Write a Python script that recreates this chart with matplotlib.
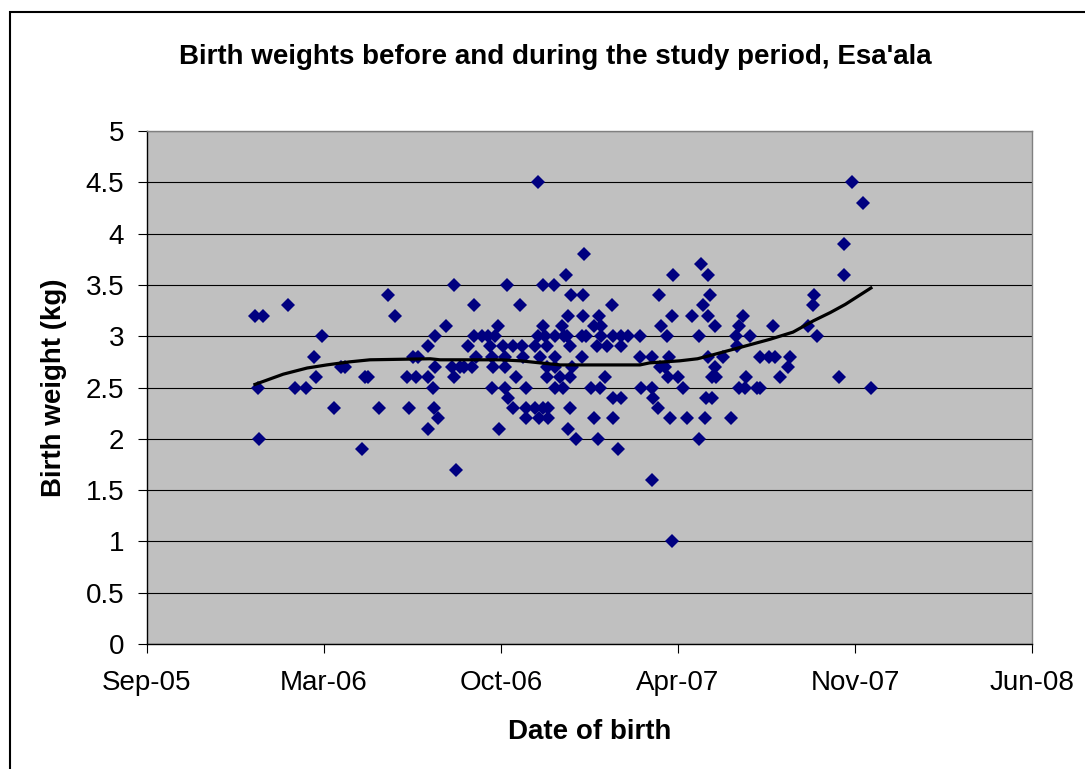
import numpy as np
import pandas as pd
import matplotlib
matplotlib.use("Agg")
import matplotlib.pyplot as plt
import matplotlib.dates as mdates
from matplotlib.patches import Rectangle
from matplotlib.ticker import FuncFormatter, MultipleLocator

plt.rcParams['font.family'] = ['Liberation Sans', 'DejaVu Sans']

# date of birth as Excel serial day numbers, birth weight in kg
dob_serial = [
    38722, 38725, 38727, 38731, 38759, 38767, 38780, 38789, 38791, 38798,
    38811, 38819, 38824, 38843, 38846, 38850, 38862, 38872, 38880,
    38894, 38896, 38901, 38904, 38906, 38918, 38918, 38918, 38923, 38924,
    38925, 38925, 38929, 38938, 38945, 38947, 38947, 38949, 38954, 38958,
    38963, 38967, 38970, 38970, 38972,
    38979, 38985, 38988, 38990, 38990, 38991, 38993, 38997, 38998, 39002,
    39005, 39005, 39005, 39007, 39008, 39014, 39014, 39017, 39022, 39024,
    39025, 39028, 39028, 39028, 39038, 39038, 39042, 39042, 39043, 39044,
    39048, 39048, 39048, 39050, 39052, 39052, 39052, 39053, 39053,
    39060, 39061, 39061, 39061, 39061, 39067, 39069, 39070, 39071, 39074,
    39075, 39076, 39076, 39078, 39078, 39078, 39079, 39080, 39085, 39092,
    39092, 39093, 39093, 39094, 39096, 39102, 39105, 39105, 39109, 39110,
    39111, 39112, 39113, 39113, 39118, 39120, 39125, 39126,
    39127, 39127, 39132, 39136, 39136, 39136, 39144, 39157, 39157, 39158,
    39171, 39171, 39171, 39172, 39177, 39179, 39181, 39180, 39185, 39188,
    39189, 39190, 39191, 39193, 39194, 39193,
    39200, 39206, 39210, 39216, 39224, 39224, 39226, 39228, 39231, 39232,
    39234, 39234, 39234, 39236, 39238, 39238, 39242, 39242, 39243, 39251,
    39260, 39266, 39267, 39269, 39269, 39273, 39276, 39277, 39281, 39289,
    39293, 39293, 39303, 39307, 39310, 39315, 39324, 39327, 39347, 39353,
    39354, 39357, 39382, 39388, 39388, 39397, 39409, 39418,
]
weight_kg = [
    3.2, 2.5, 2.0, 3.2, 3.3, 2.5, 2.5, 2.8, 2.6, 3.0,
    2.3, 2.7, 2.7, 1.9, 2.6, 2.6, 2.3, 3.4, 3.2,
    2.6, 2.3, 2.8, 2.6, 2.8, 2.9, 2.6, 2.1, 2.5, 2.3,
    3.0, 2.7, 2.2, 3.1, 2.7, 3.5, 2.6, 1.7, 2.7, 2.7,
    2.9, 2.7, 3.3, 3.0, 2.8,
    3.0, 3.0, 2.9, 2.8, 2.5, 2.7, 3.0, 3.1, 2.1, 2.9,
    2.8, 2.7, 2.5, 3.5, 2.4, 2.9, 2.3, 2.6, 3.3, 2.9,
    2.8, 2.5, 2.3, 2.2, 2.9, 2.3, 3.0, 4.5, 2.2, 2.8,
    3.5, 3.1, 2.3, 3.0, 2.9, 2.7, 2.6, 2.3, 2.2,
    3.5, 3.0, 2.8, 2.7, 2.5, 2.6, 3.1, 2.5, 3.0, 3.6,
    3.0, 3.2, 2.1, 2.9, 2.6, 2.3, 3.4, 2.7, 2.0, 3.0,
    2.8, 3.4, 3.2, 3.8, 3.0, 2.5, 3.1, 2.2, 2.9, 2.0,
    3.2, 2.5, 3.1, 3.0, 2.6, 2.9, 3.3, 2.4,
    3.0, 2.2, 1.9, 2.9, 3.0, 2.4, 3.0, 3.0, 2.8, 2.5,
    2.8, 2.5, 1.6, 2.4, 2.3, 3.4, 3.1, 2.7, 2.7, 3.0,
    2.6, 2.8, 2.2, 3.2, 3.6, 1.0,
    2.6, 2.5, 2.2, 3.2, 3.0, 2.0, 3.7, 3.3, 2.2, 2.4,
    3.6, 3.2, 2.8, 3.4, 2.6, 2.4, 3.1, 2.7, 2.6, 2.8,
    2.2, 3.0, 2.9, 3.1, 2.5, 3.2, 2.5, 2.6, 3.0, 2.5,
    2.8, 2.5, 2.8, 3.1, 2.8, 2.6, 2.7, 2.8, 3.1, 3.3,
    3.4, 3.0, 2.6, 3.9, 3.6, 4.5, 4.3, 2.5,
]

# trend line (moving average)
trend_serial = [38722, 38754, 38781, 38803, 38829, 38852, 38920, 38931, 38999,
                39022, 39044, 39067, 39157, 39168, 39202, 39222, 39240, 39270,
                39304, 39330, 39353, 39372, 39389, 39418]
trend_kg = [2.53, 2.63, 2.69, 2.72, 2.75, 2.77, 2.78, 2.77, 2.77,
            2.76, 2.74, 2.72, 2.72, 2.74, 2.76, 2.78, 2.82, 2.89,
            2.97, 3.04, 3.15, 3.23, 3.31, 3.47]

x_min_serial = 38600
x_max_serial = 39600
x_step_days = 200


def to_date(serial):
    return pd.to_datetime(np.asarray(serial), unit='D', origin='1899-12-30')


dob = to_date(dob_serial)
trend_dates = to_date(trend_serial)
xticks = to_date(np.arange(x_min_serial, x_max_serial + 1, x_step_days))

fig = plt.figure(figsize=(10.85, 7.69), dpi=100)
ax = fig.add_axes([147 / 1085, 1 - 644 / 769, 885 / 1085, 513 / 769])
ax.set_facecolor('#C0C0C0')

ax.plot(dob, weight_kg, linestyle='none', marker='D', markersize=7.6,
        color='#000080', markeredgewidth=0, zorder=3)
ax.plot(trend_dates, trend_kg, color='black', linewidth=2.3, zorder=4)

ax.set_xlim(to_date([x_min_serial])[0], to_date([x_max_serial])[0])
ax.set_ylim(0, 5)
ax.set_xticks(xticks)
ax.xaxis.set_major_formatter(mdates.DateFormatter('%b-%y'))
ax.yaxis.set_major_locator(MultipleLocator(0.5))
ax.yaxis.set_major_formatter(FuncFormatter(lambda v, p: '%g' % v))

ax.grid(axis='y', color='black', linewidth=0.8, zorder=1)
ax.set_axisbelow(True)
for side in ['left', 'bottom']:
    ax.spines[side].set_color('black')
    ax.spines[side].set_linewidth(1.0)
for side in ['top', 'right']:
    ax.spines[side].set_color('#808080')
    ax.spines[side].set_linewidth(1.0)

ax.tick_params(axis='both', direction='out', length=6.5, width=0.8,
               labelsize=20, colors='black')
ax.tick_params(axis='y', pad=10)
ax.tick_params(axis='x', pad=12)

ax.set_xlabel('Date of birth', fontsize=20, fontweight='bold')
ax.set_ylabel('Birth weight (kg)', fontsize=20, fontweight='bold')
ax.xaxis.set_label_coords(0.5, -0.146)
ax.yaxis.set_label_coords(-0.09, 0.5)

fig.text(555 / 1085, 1 - 57 / 769, "Birth weights before and during the study period, Esa'ala",
         ha='center', va='center', fontsize=20, fontweight='bold')

# chart area border (right and bottom edges fall outside the picture)
fig.patches.append(Rectangle((10 / 1085, -0.1), 1.2, 1.1 - 12 / 769,
                             transform=fig.transFigure, fill=False,
                             edgecolor='black', linewidth=1.5))

fig.savefig('out.png', dpi=100)
